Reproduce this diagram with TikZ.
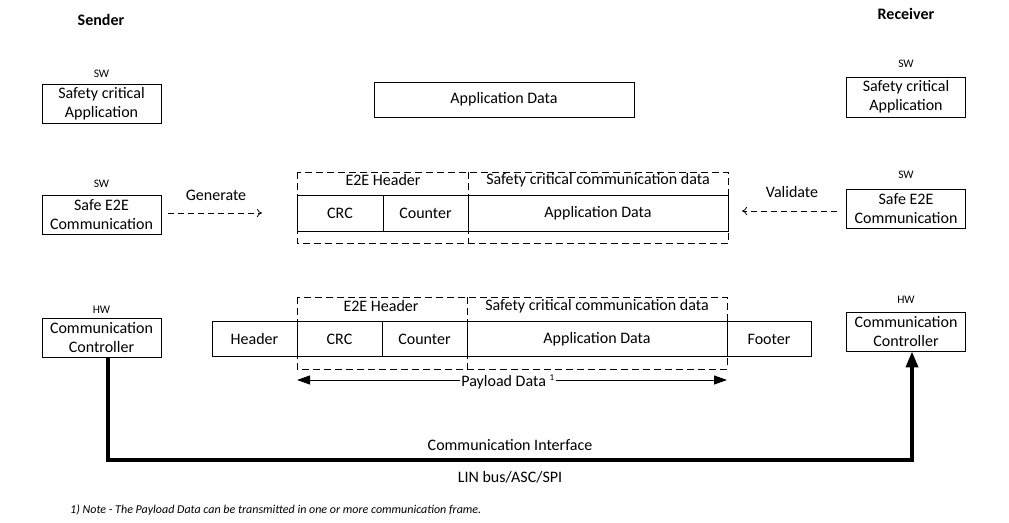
\documentclass[tikz,border=0pt]{standalone}
\usepackage{fontspec}
\setmainfont{Carlito}
\usetikzlibrary{arrows.meta}
\begin{document}
\begin{tikzpicture}[x=1pt,y=-1pt,
  box/.style={draw, line width=0.9pt, align=center, inner sep=0pt, font=\fontsize{16}{19}\selectfont},
  lbl/.style={font=\fontsize{16}{19}\selectfont, inner sep=0pt},
  tag/.style={font=\fontsize{11.5}{13}\selectfont, inner sep=0pt},
  frame/.style={draw, dash pattern=on 7pt off 4pt, line width=0.8pt},
  flow/.style={dash pattern=on 6pt off 4pt, line width=0.8pt, -{To[length=5pt,width=8pt]}},
  span/.style={line width=1pt, -{Triangle[length=13pt,width=9pt]}},
  bus/.style={line width=3.6pt, -{Triangle[length=16pt,width=12pt]}}]
\useasboundingbox (0,0) rectangle (1009,522);

% titles
\node[lbl, font=\fontsize{16}{19}\selectfont\bfseries] (snd) at (101,20) {Sender};
\node[lbl, font=\fontsize{16}{19}\selectfont\bfseries] (rcv) at (906,14) {Receiver};

% row 1
\node[tag] (t1) at (101.5,74) {SW};
\node[box, minimum width=119, minimum height=39] (sca) at (101.5,103.5) {Safety critical\\Application};
\node[box, minimum width=260, minimum height=35] (appd) at (504,99.5) {Application Data};
\node[tag] (t2) at (906,64) {SW};
\node[box, minimum width=119, minimum height=40] (rsca) at (906,97) {Safety critical\\Application};

% row 2
\node[tag] (t3) at (101.5,184) {SW};
\node[box, minimum width=119, minimum height=39] (se2e) at (101.5,214.5) {Safe E2E\\Communication};
\node[lbl] (gen) at (216,195) {Generate};
\coordinate (g1) at (168,213);
\coordinate (g2) at (262,213);
\draw[flow] (g1) -- (g2);

\draw[frame] (297,172) rectangle (728,243.5);
\draw[frame] (468,172) -- (468,243.5);
\node[box, minimum width=86, minimum height=36] (crc1) at (340,213.5) {CRC};
\node[box, minimum width=85, minimum height=36] (cnt1) at (425.5,213.5) {Counter};
\node[box, minimum width=260, minimum height=36] (app1) at (598,213.5) {Application Data};
\node[lbl] (e2eh1) at (383,180) {E2E Header};
\node[lbl] (scd1) at (598,180) {Safety critical communication data};

\node[lbl] (val) at (792,192) {Validate};
\coordinate (v1) at (837,211);
\coordinate (v2) at (742,211);
\draw[flow] (v1) -- (v2);
\node[tag] (t4) at (906,175) {SW};
\node[box, minimum width=119, minimum height=39] (re2e) at (906,208.5) {Safe E2E\\Communication};

% row 3
\node[tag] (t5) at (101.5,310) {HW};
\node[box, minimum width=119, minimum height=39] (lcc) at (101.5,337.5) {Communication\\Controller};
\draw[frame] (297,297) rectangle (727,369);
\draw[frame] (467,297) -- (467,369);
\node[box, minimum width=85, minimum height=35] (hdr) at (254.5,339) {Header};
\node[box, minimum width=85, minimum height=35] (crc2) at (339.5,339) {CRC};
\node[box, minimum width=85, minimum height=35] (cnt2) at (424.5,339) {Counter};
\node[box, minimum width=260, minimum height=35] (app2) at (597,339) {Application Data};
\node[box, minimum width=84, minimum height=35] (ftr) at (769,339) {Footer};
\node[lbl] (e2eh2) at (381,306) {E2E Header};
\node[lbl] (scd2) at (597,306) {Safety critical communication data};

\coordinate (p1) at (297,380);
\coordinate (p2) at (727,380);
\node[lbl, fill=white, inner xsep=1pt] (pay) at (508,382) {Payload Data \textsuperscript{\fontsize{9}{9}\selectfont 1}};
\draw[span] (pay.west |- p1) -- (p1);
\draw[span] (pay.east |- p2) -- (p2);

\node[tag] (t6) at (906,300) {HW};
\node[box, minimum width=119, minimum height=39] (rcc) at (906,331.5) {Communication\\Controller};

% bus
\coordinate (bl) at (108,460);
\draw[bus] ([xshift=6.5]lcc.south) -- (bl) -| ([xshift=6]rcc.south);
\node[lbl] (ci) at (510,445) {Communication Interface};
\node[lbl] (lin) at (510,477) {LIN bus/ASC/SPI};

% footnote
\node[anchor=west, inner sep=0pt, font=\fontsize{12}{14}\selectfont\itshape] (note) at (70,510) {1) Note - The Payload Data can be transmitted in one or more communication frame.};
\end{tikzpicture}
\end{document}
